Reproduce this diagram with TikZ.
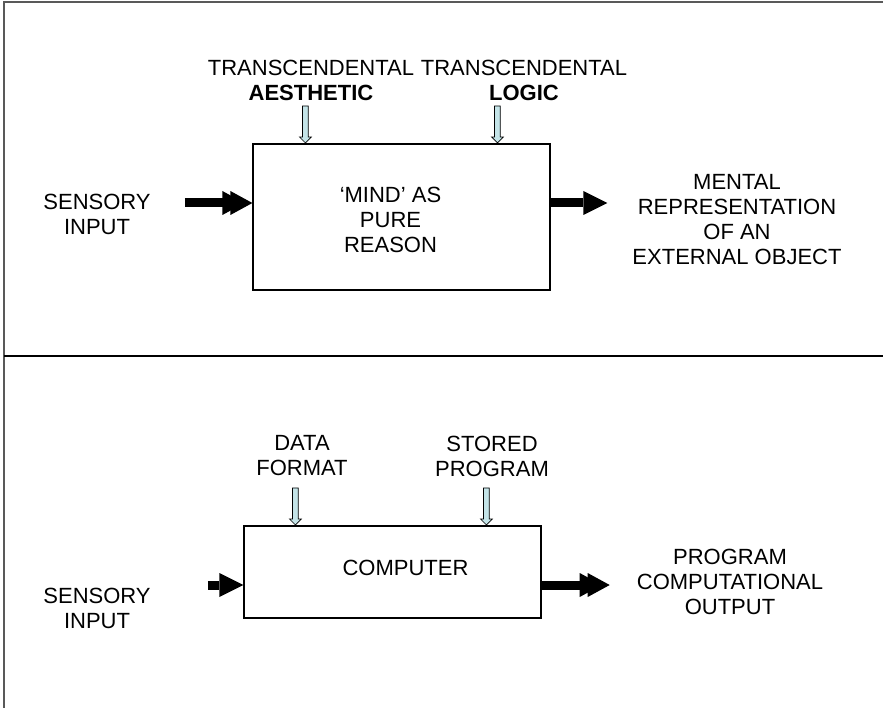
\documentclass[tikz,border=0pt]{standalone}
\usepackage{fontspec}
\setmainfont{Liberation Sans}
\usetikzlibrary{arrows.meta,positioning,shapes.arrows}
\definecolor{inblue}{RGB}{196,228,232}

\begin{document}
\begin{tikzpicture}[
  x=1pt, y=-1pt,
  font=\fontsize{22}{25}\selectfont,
  box/.style={draw, line width=1.2pt, minimum width=297pt, align=center, inner sep=0pt},
  lab/.style={align=center, inner sep=0pt},
  frame/.style={line width=2pt},
  arr/.style={line width=9pt, -{Triangle[length=24pt,width=24pt,line width=0pt]}},
  dblarr/.style={line width=9pt,
    -{Triangle[length=22pt,width=24pt,line width=0pt,sep=-14pt]Triangle[length=22pt,width=24pt,line width=0pt]}},
  inarr/.style={single arrow, draw, fill=inblue, line width=0.7pt, inner sep=2.5pt,
    minimum height=37pt, single arrow head extend=3pt,
    single arrow head indent=0pt, shape border rotate=270, anchor=tip}
]
\useasboundingbox (0,0) rectangle (883,708);

% ---------- Frame ----------
\coordinate (tl) at (4,2);
\coordinate (tr) at (883,2);
\coordinate (bl) at (4,708);
\coordinate (ml) at (4,356);
\coordinate (mr) at (883,356);
\draw[frame, black!65] (tr) -- (tl) -- (bl);
\draw[frame] (ml) -- (mr);

% ---------- Mind as pure reason ----------
\node[box, minimum height=146pt,
  label={[lab, xshift=-11pt, yshift=-3pt]center:{`MIND' AS\\PURE\\REASON}}] (mind) at (401.5,217) {};
\node[lab] (sens1) at (97,214) {SENSORY\\INPUT};
\node[lab] (ment) at (737,220) {MENTAL\\REPRESENTATION\\OF AN\\EXTERNAL OBJECT};
\node[lab] (aest) at (311,80) {TRANSCENDENTAL\\\textbf{AESTHETIC}};
\node[lab] (logic) at (524,80) {TRANSCENDENTAL\\\textbf{LOGIC}};

\draw[dblarr, shorten <=34pt] (sens1.east |- 0,203) -- (mind.west |- 0,203);
\draw[arr, shorten >=25pt] (mind.east |- 0,203) -- (ment.west |- 0,203);
\node[inarr] (aestarr) at ([xshift=53pt]mind.north west) {};
\node[inarr] (logicarr) at ([xshift=245pt]mind.north west) {};

% ---------- Computer ----------
\node[box, minimum height=92pt,
  label={[lab, xshift=13pt, yshift=4pt]center:COMPUTER}] (comp) at (392.5,572) {};
\node[lab] (sens2) at (97,608) {SENSORY\\INPUT};
\node[lab] (prog) at (730,582) {PROGRAM\\COMPUTATIONAL\\OUTPUT};
\node[lab] (data) at (302,456) {DATA\\FORMAT};
\node[lab] (stor) at (492,456) {STORED\\PROGRAM};

\draw[arr, shorten <=57pt] (sens2.east |- 0,585) -- (comp.west |- 0,585);
\draw[dblarr, shorten >=27pt] (comp.east |- 0,585) -- (prog.west |- 0,585);
\node[inarr] (dataarr) at ([xshift=52pt]comp.north west) {};
\node[inarr] (storarr) at ([xshift=243pt]comp.north west) {};
\end{tikzpicture}
\end{document}
